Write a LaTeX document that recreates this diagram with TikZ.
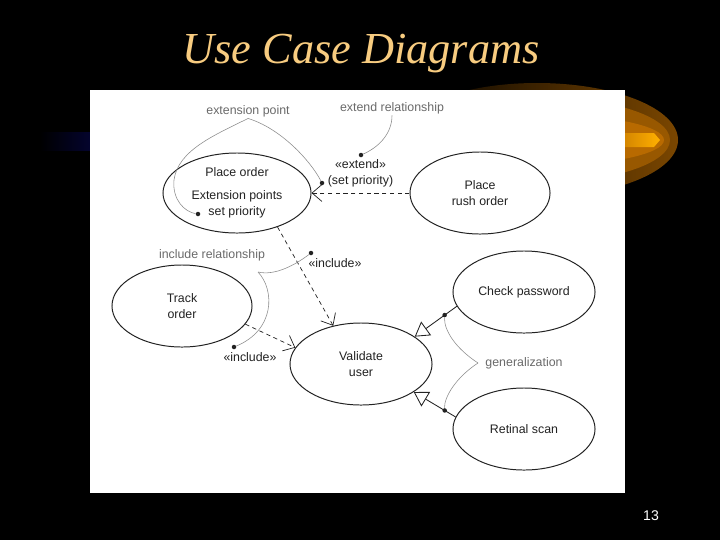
\documentclass[tikz,border=0pt]{standalone}
\usepackage{fontspec}
\setmainfont{Liberation Serif}
\setsansfont{Liberation Sans}
\usepackage{tikz}
\usetikzlibrary{shapes.geometric, arrows.meta}

\definecolor{titleorange}{HTML}{F8CC80}
\definecolor{notegray}{HTML}{6A6A6A}
\definecolor{notestroke}{HTML}{8C8C8C}
\definecolor{inkgray}{HTML}{222222}
\definecolor{swooshouter}{HTML}{7A4600}
\definecolor{swooshmid}{HTML}{985800}
\definecolor{swooshinner}{HTML}{B86A00}
\definecolor{swooshcore}{HTML}{FFB000}
\definecolor{barblue}{HTML}{04042E}

\begin{document}
\begin{tikzpicture}[x=0.025cm, y=-0.025cm, font=\sffamily\fontsize{8.8}{11.3}\selectfont]
		\tikzstyle{usecase} = [ellipse, draw=inkgray, line width=0.7pt, minimum width=3.55cm, minimum height=2.05cm, inner sep=0pt, align=center, text=inkgray]
		
		\tikzstyle{note} = [text=notegray, inner sep=1pt]
		\tikzstyle{noteline} = [draw=notestroke, line width=0.4pt]
		\tikzstyle{dot} = [circle, fill=inkgray, inner sep=0pt, minimum size=3.2pt]
		\tikzstyle{stereo} = [text=inkgray, inner sep=1pt, align=center]
		
		\tikzstyle{dep} = [draw=inkgray, line width=0.5pt, dash pattern=on 3pt off 2.5pt, -{Straight Barb[length=7pt, width=12pt]}]
		\tikzstyle{gen} = [draw=inkgray, line width=0.6pt, -{Triangle[open, length=10pt, width=12pt]}]
		
		% Slide background
		\fill[black] (0,0) rectangle (720,540);
		\useasboundingbox (0,0) rectangle (720,540);
		\shade[left color=black, right color=barblue] (40,132) rectangle (90,150);
		\shade[left color=black, right color=swooshouter] (537,140) ellipse [x radius=141, y radius=57];
		\fill[swooshmid] (537,140) ellipse [x radius=133, y radius=43];
		\fill[swooshinner] (537,140) ellipse [x radius=127, y radius=26];
		\shade[left color=swooshinner, right color=swooshcore] (600,133) -- (654,133) -- (660,140) -- (654,147) -- (600,147) -- cycle;
		\fill[white] (90,90) rectangle (625,493);
		
		\node (title) [anchor=base, text=titleorange, font=\rmfamily\itshape\fontsize{31.5}{36}\selectfont] at (361,63) {Use Case Diagrams};
		\node (pagenum) [text=white, font=\sffamily\fontsize{10}{12}\selectfont] at (651,516) {13};
		
		% Use cases
		\node (place) [usecase, minimum width=3.7cm, minimum height=2cm] at (237,193) {Place order\\[5pt]Extension points\\set priority};
		\node (rush) [usecase, minimum width=3.5cm] at (480,193) {Place\\rush order};
		\node (track) [usecase, minimum width=3.5cm] at (182,306) {Track\\order};
		\node (validate) [usecase] at (361,364) {Validate\\user};
		\node (check) [usecase] at (524,292) {Check password};
		\node (retinal) [usecase] at (524,429) {Retinal scan};
		
		% Relationships
		\draw [dep] (rush.west) -- (place.east) node [midway, above=3pt, stereo] (extlbl) {«extend»\\(set priority)};
		\draw [dep] (place.-40.5) -- (validate.126.6);
		\draw [dep] (track.-16.3) -- (validate.166.8);
		\node (incup) [stereo] at (335,263) {«include»};
		\node (inclow) [stereo] at (250,357) {«include»};
		\draw [gen] (check.192.6) -- node [pos=0.29, dot] (dgup) {} (validate.27.9);
		\draw [gen] (retinal.170) -- node [pos=0.26, dot] (dglow) {} (validate.-28.3);
		
		% Notes
		\node (extpt) [note] at (248,111) {extension point};
		\node (extrel) [note] at (392,108) {extend relationship};
		\node (increl) [note] at (212,255) {include relationship};
		\node (genlbl) [note] at (524,363) {generalization};
		
		\node (dspin) [dot] at (198,214) {};
		\node (dspout) [dot] at (322,183) {};
		\node (dext) [dot] at (361,155) {};
		\node (dincup) [dot] at (311,253) {};
		\node (dinclow) [dot] at (234,347) {};
		\coordinate (incfork) at (258,272);
		\coordinate (genfork) at (478,363);
		
		\draw [noteline] (extpt.south) .. controls (215,135) and (178,150) .. (174,180) .. controls (172,200) and (185,212) .. (dspin);
		\draw [noteline] (extpt.south) .. controls (280,128) and (310,160) .. (dspout);
		\draw [noteline] (extrel.south) .. controls (392,135) and (377,148) .. (dext);
		\draw [noteline] (incfork) .. controls (275,276) and (295,265) .. (dincup);
		\draw [noteline] (incfork) .. controls (275,290) and (275,330) .. (dinclow);
		\draw [noteline] (genfork) .. controls (455,348) and (444,330) .. (dgup);
		\draw [noteline] (genfork) .. controls (455,378) and (444,398) .. (dglow);
		
		\end{tikzpicture}
\end{document}
